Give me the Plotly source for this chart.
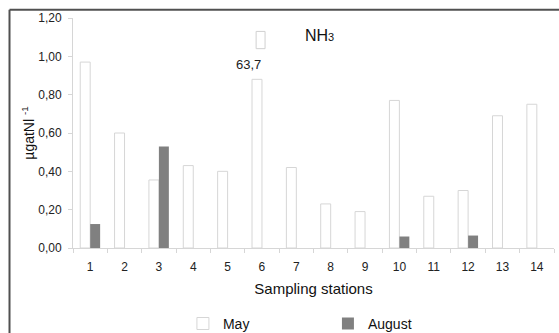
import plotly.graph_objects as go

stations = [str(i) for i in range(1, 15)]
may = [0.97, 0.60, 0.355, 0.43, 0.40, 0.88, 0.42, 0.23, 0.19, 0.77, 0.27, 0.30, 0.69, 0.75]
august = [0.125, 0, 0.53, 0, 0, 0, 0, 0, 0, 0.06, 0, 0.065, 0, 0]
yticks = [0, 0.2, 0.4, 0.6, 0.8, 1.0, 1.2]
ytick_labels = ["0,00", "0,20", "0,40", "0,60", "0,80", "1,00", "1,20"]
break_station = ["6"]
break_base = [1.04]
break_height = [0.09]
break_label = "63,7"
break_label_y = 0.955

FONT = "Liberation Sans, Arial, sans-serif"
BW = 0.29

fig = go.Figure()
fig.add_trace(go.Bar(
    x=stations, y=may, name="May", width=BW, offset=-BW,
    marker=dict(color="white", line=dict(color="#d6d6d6", width=1)),
))
fig.add_trace(go.Bar(
    x=stations, y=august, name="August", width=BW, offset=0,
    marker=dict(color="#808080", line=dict(color="#808080", width=0)),
))
fig.add_trace(go.Bar(
    x=break_station, y=break_height, base=break_base, showlegend=False,
    width=0.26, offset=-0.17,
    marker=dict(color="white", line=dict(color="#d0d0d0", width=1)),
    hoverinfo="skip",
))

break_idx = stations.index(break_station[0])
fig.add_annotation(x=break_idx, y=break_label_y, text=break_label, showarrow=False,
                   xshift=-13, font=dict(family=FONT, size=13, color="#222"))
fig.add_annotation(xref="paper", yref="paper", x=0.478, y=0.926, xanchor="left", yanchor="middle",
                   text="NH<span style='font-size:11px'>3</span>", showarrow=False,
                   font=dict(family=FONT, size=16, color="#111"))

# outer frame (partially visible)
fig.add_shape(type="line", xref="paper", yref="paper", x0=-0.132, x1=1.05, y0=1.036, y1=1.036,
              line=dict(color="#505050", width=2))
fig.add_shape(type="line", xref="paper", yref="paper", x0=-0.132, x1=-0.132, y0=1.036, y1=-0.5,
              line=dict(color="#505050", width=2))

fig.update_layout(
    width=559, height=333,
    margin=dict(l=73, r=5, t=18, b=85, autoexpand=False),
    paper_bgcolor="white", plot_bgcolor="white",
    barmode="overlay",
    font=dict(family=FONT, color="#222"),
    showlegend=True,
    legend=dict(orientation="h", x=0.53, y=-0.33, xanchor="center", yanchor="middle",
                font=dict(family=FONT, size=14, color="#111"), entrywidth=100,
                itemwidth=30),
    xaxis=dict(
        type="category", range=[-0.5, 13.5], showline=True, linecolor="#d6d6d6", linewidth=1,
        ticks="outside", tickson="boundaries", ticklen=4, tickcolor="#d6d6d6",
        ticklabelstandoff=8,
        tickfont=dict(family=FONT, size=12, color="#222"),
        title=dict(text="Sampling stations", font=dict(family=FONT, size=15, color="#111"), standoff=10),
        showgrid=False, zeroline=False, automargin=False,
    ),
    yaxis=dict(
        range=[0, 1.2], tickvals=yticks, ticktext=ytick_labels,
        showline=True, linecolor="#d6d6d6", linewidth=1,
        ticks="outside", ticklen=4, tickcolor="#d6d6d6",
        ticklabelstandoff=4,
        tickfont=dict(family=FONT, size=12, color="#222"),
        title=dict(text="µgatNl <sup>-1</sup>", font=dict(family=FONT, size=14, color="#111"), standoff=0),
        showgrid=False, zeroline=False, automargin=False,
    ),
)

fig.write_html("out.html", config={"displayModeBar": False},
               post_script="document.body.style.margin='0px';")
